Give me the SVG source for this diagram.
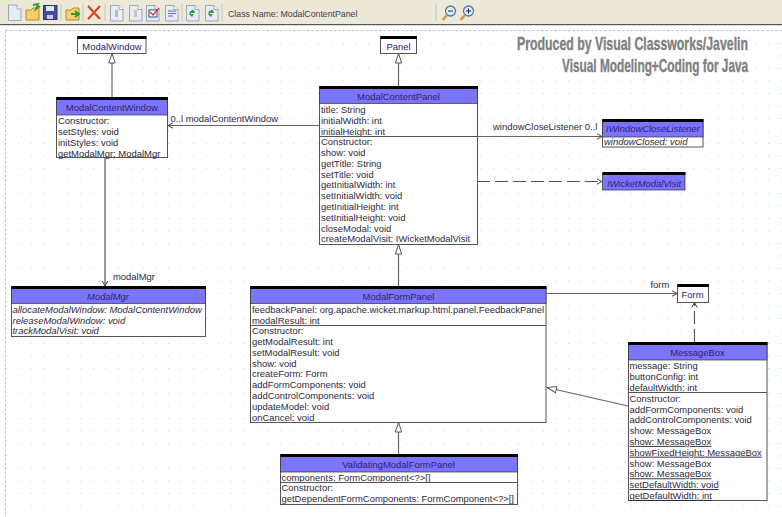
<svg xmlns="http://www.w3.org/2000/svg" xmlns:xlink="http://www.w3.org/1999/xlink" width="782" height="517" viewBox="0 0 782 517">
<style>
text{font-family:"Liberation Sans",Arial,sans-serif;font-size:9.45px;fill:#30283c}
.h{text-anchor:middle;fill:#33206e}
.i{font-style:italic}
.u{text-decoration:underline}
.b{fill:#fff;stroke:#555;stroke-width:1}
.bar{fill:#000}
.hd{fill:#7b74fc;stroke:#333;stroke-width:.7}
.sep{stroke:#555;stroke-width:1;fill:none}
.c{stroke:#666;stroke-width:1.2;fill:none}
.d{stroke:#555;stroke-width:1.1;fill:none;stroke-dasharray:13 5}
.ts{stroke:#c8c5b4;stroke-width:1}
.banner{font-weight:bold;font-size:18px;fill:#808080;stroke:#808080;stroke-width:.35}
</style>
<defs>
<pattern id="grid" x="5.5" y="5.5" width="12.5" height="12.5" patternUnits="userSpaceOnUse"><rect x="0" y="0" width="1" height="1" fill="#9eeeee"/></pattern>
<marker id="tri" markerUnits="userSpaceOnUse" markerWidth="12" markerHeight="12" refX="10" refY="4" orient="auto"><path d="M10 4L.5 .8V7.2Z" fill="#fff" stroke="#555"/></marker>
<marker id="open" markerUnits="userSpaceOnUse" markerWidth="8" markerHeight="8" refX="6" refY="3.5" orient="auto"><path d="M1 .8L6 3.5L1 6.2" fill="none" stroke="#444"/></marker>
<g id="page"><path d="M.5 .5H9L13 4.5V16H.5Z" fill="#e4ecf8" stroke="#9aa8bc"/><path d="M9 .5V4.5H13" fill="#fff" stroke="#9aa8bc"/></g>
<g id="folder"><path d="M1 5H6L8 3H14V15H1Z" fill="#f6cf6c" stroke="#b08a35"/></g>
<g id="lens"><circle cx="9.5" cy="6" r="5" fill="#dcecff" stroke="#5577aa" stroke-width="1.3"/><path d="M6 10L1.5 15" stroke="#d59a3a" stroke-width="2.6"/></g>
<g id="sync"><use xlink:href="#page"/><path d="M3.5 7L7 4.5L9 7L6 12L3.5 9.5Z" fill="#2c9a35"/><path d="M5 8.5H8" stroke="#fff"/></g>
</defs>
<rect width="782" height="517" fill="#fff"/>
<rect x="5" y="30" width="777" height="487" fill="url(#grid)"/>
<path d="M5.5 30.5H782M5.5 30.5V517" fill="none" stroke="#c4c4c4" stroke-dasharray="2.5 2"/>
<g id="toolbar">
<rect width="782" height="24" fill="#ece9d8"/>
<rect y="24" width="782" height="1.2" fill="#555"/>
<use xlink:href="#page" x="8" y="4.5"/>
<use xlink:href="#folder" x="25" y="5"/><path d="M33 5L38 4L36 9L40 6" fill="none" stroke="#3c9a3c" stroke-width="2"/>
<rect x="43.5" y="5.5" width="13.5" height="14" fill="#3f4f9f" stroke="#2a3578"/><rect x="46" y="6" width="8" height="5" fill="#dfe4f2"/><rect x="47" y="15" width="6" height="4" fill="#c8cce0"/>
<line class="ts" x1="61" y1="4" x2="61" y2="21"/>
<use xlink:href="#folder" x="65" y="5"/><path d="M71 14H78M75 11L79 14L75 17" fill="none" stroke="#2c9a35" stroke-width="2"/>
<line class="ts" x1="83" y1="4" x2="83" y2="21"/>
<path d="M88 6L100 19M100 6L88 19" stroke="#e03c1c" stroke-width="2"/>
<line class="ts" x1="105" y1="4" x2="105" y2="21"/>
<use xlink:href="#page" x="110" y="5"/><rect x="115" y="10" width="3" height="7" fill="#b8bcc0"/>
<use xlink:href="#page" x="129" y="5"/><rect x="134" y="10" width="3" height="7" fill="#c8c8b8"/>
<use xlink:href="#page" x="146" y="5"/><rect x="149" y="10" width="8" height="7" fill="#fff" stroke="#34489a"/><path d="M150 12L153 15L159 8" fill="none" stroke="#e03c1c" stroke-width="1.5"/>
<use xlink:href="#page" x="165" y="5"/><path d="M168 11H176M168 13.500H176M168 16H173" stroke="#5a6cc8"/>
<line class="ts" x1="182" y1="4" x2="182" y2="21"/>
<use xlink:href="#sync" x="186" y="5"/>
<use xlink:href="#sync" x="205" y="5"/>
<line class="ts" x1="222" y1="4" x2="222" y2="21"/>
<text x="228" y="17" style="fill:#4a3c4e;font-size:8.75px">Class Name: ModalContentPanel</text>
<line class="ts" x1="436" y1="4" x2="436" y2="21"/>
<use xlink:href="#lens" x="441" y="5"/><path d="M448 11H453" stroke="#222"/>
<use xlink:href="#lens" x="459" y="5"/><path d="M466 11H471M468.500 8.500V13.500" stroke="#222"/>
</g>
<g id="banner">
<text class="banner" transform="translate(517 50) scale(.7 1)" textLength="330" lengthAdjust="spacingAndGlyphs">Produced by Visual Classworks/Javelin</text>
<text class="banner" transform="translate(562 72) scale(.7 1)" textLength="266" lengthAdjust="spacingAndGlyphs">Visual Modeling+Coding for Java</text>
</g>
<g id="connectors">
<line class="c" x1="112" y1="97" x2="112" y2="53.500" marker-end="url(#tri)"/>
<line class="c" x1="398.500" y1="86" x2="398.500" y2="53.500" marker-end="url(#tri)"/>
<line class="c" x1="398.500" y1="286" x2="398.500" y2="244.500" marker-end="url(#tri)"/>
<line class="c" x1="398.500" y1="454" x2="398.500" y2="422.500" marker-end="url(#tri)"/>
<line class="c" x1="628" y1="406" x2="547" y2="387.500" marker-end="url(#tri)"/>
<line class="c" x1="319" y1="125.500" x2="168" y2="125.500" marker-end="url(#open)"/>
<line class="c" x1="477" y1="136.500" x2="602" y2="136.500" marker-end="url(#open)"/>
<line class="d" x1="477" y1="181.500" x2="602" y2="181.500" marker-end="url(#open)"/>
<line class="c" x1="105" y1="157" x2="105" y2="286" style="stroke:#777;stroke-width:1.5" marker-end="url(#open)"/>
<line class="c" x1="546" y1="293.500" x2="677" y2="293.500" marker-end="url(#open)"/>
<line class="d" x1="694.500" y1="342" x2="694.500" y2="302.500" marker-end="url(#open)"/>
<text x="170.500" y="122">0..l modalContentWindow</text>
<text x="493" y="130">windowCloseListener 0..l</text>
<text x="113" y="280">modalMgr</text>
<text x="650.500" y="288">form</text>
</g>
<g id="ModalWindow">
<rect class="b" x="77.500" y="36.500" width="68.500" height="17"/><rect class="bar" x="77.500" y="36" width="69" height="3"/>
<text class="h" x="112" y="50">ModalWindow</text>
</g>
<g id="Panel">
<rect class="b" x="380.500" y="36.500" width="36" height="17"/><rect class="bar" x="380.500" y="36" width="36.500" height="3"/>
<text class="h" x="398.500" y="50">Panel</text>
</g>
<g id="ModalContentWindow">
<rect class="b" x="56.500" y="97.500" width="111" height="60"/><rect class="hd" x="56.500" y="99" width="111" height="16"/><rect class="bar" x="56.500" y="97" width="111.500" height="3"/>
<text class="h" x="112" y="111">ModalContentWindow</text>
<text x="58" y="124">Constructor:</text><text x="58" y="135">setStyles: void</text><text x="58" y="146">initStyles: void</text><text x="58" y="156.700">getModalMgr: ModalMgr</text>
</g>
<g id="ModalContentPanel">
<rect class="b" x="319.500" y="86.500" width="158" height="158"/><rect class="hd" x="319.500" y="88" width="158" height="15.500"/><rect class="bar" x="319.500" y="86" width="158.500" height="3"/>
<text class="h" x="398.500" y="100">ModalContentPanel</text>
<text x="321" y="113">title: String</text><text x="321" y="123.800">initialWidth: int</text><text x="321" y="134.500">initialHeight: int</text>
<line class="sep" x1="319.500" y1="136.500" x2="477.500" y2="136.500"/>
<text x="321" y="145.200">Constructor:</text><text x="321" y="156">show: void</text><text x="321" y="166.800">getTitle: String</text><text x="321" y="177.600">setTitle: void</text><text x="321" y="188.400">getInitialWidth: int</text><text x="321" y="199.200">setInitialWidth: void</text><text x="321" y="210">getInitialHeight: int</text><text x="321" y="220.800">setInitialHeight: void</text><text x="321" y="231.600">closeModal: void</text><text x="321" y="242.400">createModalVisit: IWicketModalVisit</text>
</g>
<g id="IWindowCloseListener">
<rect class="b" x="602.500" y="119.500" width="100.500" height="27.500"/><rect class="hd" x="602.500" y="121" width="100.500" height="16"/><rect class="bar" x="602.500" y="119" width="101" height="3"/>
<text class="h i" x="653" y="132">IWindowCloseListener</text>
<text class="i" x="604" y="145">windowClosed: void</text>
</g>
<g id="IWicketModalVisit">
<rect class="hd" x="602.500" y="173.500" width="82.500" height="16.500"/><rect class="bar" x="602.500" y="172" width="83" height="3"/>
<text class="h i" x="644" y="186.700">IWicketModalVisit</text>
</g>
<g id="ModalMgr">
<rect class="b" x="11.500" y="286.500" width="194" height="50"/><rect class="hd" x="11.500" y="288" width="194" height="15.500"/><rect class="bar" x="11.500" y="286" width="194.500" height="3"/>
<text class="h i" x="108" y="300">ModalMgr</text>
<text class="i" x="12.500" y="312.700">allocateModalWindow: ModalContentWindow</text><text class="i" x="12.500" y="323.500">releaseModalWindow: void</text><text class="i" x="12.500" y="334.300">trackModalVisit: void</text>
</g>
<g id="ModalFormPanel">
<rect class="b" x="250.500" y="286.500" width="295.500" height="136"/><rect class="hd" x="250.500" y="288" width="295.500" height="15.500"/><rect class="bar" x="250.500" y="286" width="296" height="3"/>
<text class="h" x="398.500" y="300">ModalFormPanel</text>
<text x="252" y="312.700">feedbackPanel: org.apache.wicket.markup.html.panel.FeedbackPanel</text><text x="252" y="323.500">modalResult: int</text>
<line class="sep" x1="250.500" y1="325.500" x2="546" y2="325.500"/>
<text x="252" y="334.300">Constructor:</text><text x="252" y="345">getModalResult: int</text><text x="252" y="355.800">setModalResult: void</text><text x="252" y="366.600">show: void</text><text x="252" y="377.400">createForm: Form</text><text x="252" y="388.200">addFormComponents: void</text><text x="252" y="399">addControlComponents: void</text><text x="252" y="409.800">updateModel: void</text><text x="252" y="420.600">onCancel: void</text>
</g>
<g id="Form">
<rect class="b" x="677.500" y="284.500" width="31" height="18"/><rect class="bar" x="677.500" y="284" width="31.500" height="3"/>
<text class="h" x="692.500" y="298">Form</text>
</g>
<g id="MessageBox">
<rect class="b" x="628.500" y="342.500" width="138.500" height="158"/><rect class="hd" x="628.500" y="344" width="138.500" height="16"/><rect class="bar" x="628.500" y="342" width="139" height="3"/>
<text class="h" x="697.500" y="356">MessageBox</text>
<text x="629.500" y="369">message: String</text><text x="629.500" y="379.800">buttonConfig: int</text><text x="629.500" y="390.600">defaultWidth: int</text>
<line class="sep" x1="628.500" y1="392.500" x2="767" y2="392.500"/>
<text x="629.500" y="401.700">Constructor:</text><text x="629.500" y="412.500">addFormComponents: void</text><text x="629.500" y="423.300">addControlComponents: void</text><text x="629.500" y="434.100">show: MessageBox</text><text class="u" x="629.500" y="444.900">show: MessageBox</text><text class="u" x="629.500" y="455.700">showFixedHeight: MessageBox</text><text x="629.500" y="466.500">show: MessageBox</text><text class="u" x="629.500" y="477.300">show: MessageBox</text><text class="u" x="629.500" y="488.100">setDefaultWidth: void</text><text class="u" x="629.500" y="498.900">getDefaultWidth: int</text>
</g>
<g id="ValidatingModalFormPanel">
<rect class="b" x="280.500" y="454.500" width="237" height="50"/><rect class="hd" x="280.500" y="456" width="237" height="16"/><rect class="bar" x="280.500" y="454" width="237.500" height="3"/>
<text class="h" x="398.500" y="468">ValidatingModalFormPanel</text>
<text x="281.500" y="480.700">components: FormComponent&lt;?&gt;[]</text>
<line class="sep" x1="280.500" y1="482.500" x2="517.500" y2="482.500"/>
<text x="281.500" y="491.400">Constructor:</text><text x="281.500" y="502.200">getDependentFormComponents: FormComponent&lt;?&gt;[]</text>
</g>
</svg>
